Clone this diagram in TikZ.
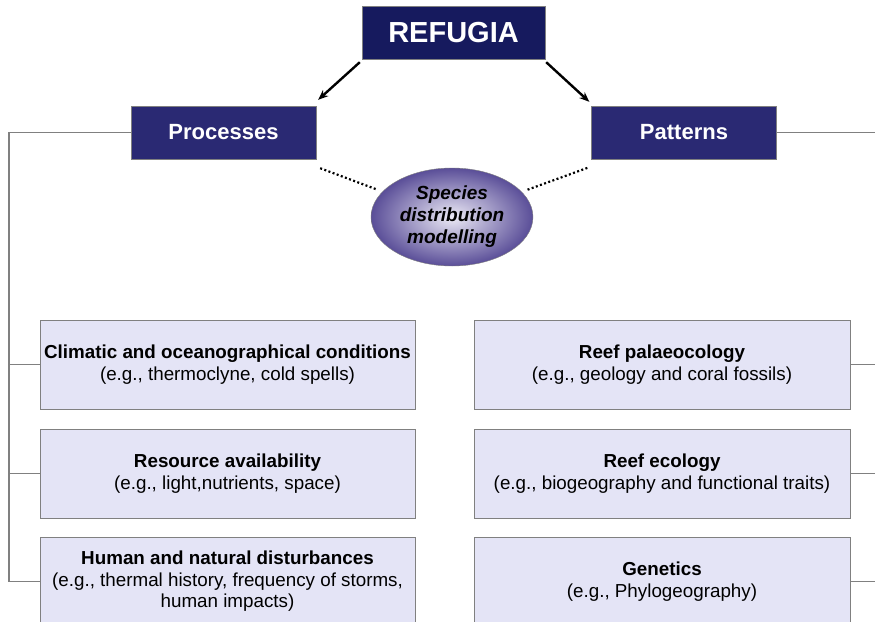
\documentclass[tikz,border=0pt]{standalone}
\usepackage{fontspec}
\setmainfont{Liberation Sans}
\usetikzlibrary{positioning,arrows.meta,shapes.geometric}

\definecolor{navy}{HTML}{161A5E}
\definecolor{navylight}{HTML}{2A2973}
\definecolor{lavender}{HTML}{E4E4F6}
\definecolor{boxline}{HTML}{808080}
\definecolor{sdmedge}{HTML}{5A4E98}
\definecolor{sdmcentre}{HTML}{ECEAF6}

\tikzset{
  titlebox/.style={draw=boxline, fill=navy, text=white, inner sep=0pt,
    minimum width=183pt, minimum height=53pt,
    font=\fontsize{29}{32}\selectfont\bfseries},
  headbox/.style={draw=boxline, fill=navylight, text=white, inner sep=0pt,
    minimum width=185pt, minimum height=53pt,
    font=\fontsize{22}{25}\selectfont\bfseries},
  itembox/.style={draw=boxline, line width=1pt, fill=lavender, inner sep=0pt,
    minimum width=375pt, minimum height=89pt, align=center,
    font=\fontsize{18.8}{21.5}\selectfont},
  link/.style={draw=boxline, line width=1.2pt},
  arrow/.style={line width=2.4pt, -{Stealth[length=10pt,width=8pt]}},
  dots/.style={line width=2.2pt, dash pattern=on 2pt off 2.4pt},
}

\begin{document}
\begin{tikzpicture}[x=1pt,y=-1pt]

    \clip (0,0) rectangle (875,621);

    \node[titlebox] (refugia) at (453.5,32.5) {REFUGIA};
    \node[headbox] (proc) at (223.5,132.5) {Processes};
    \node[headbox] (patt) at (684,132.5) {Patterns};

    \node[ellipse, draw=boxline, inner color=sdmcentre, outer color=sdmedge,
      inner sep=0pt, minimum width=162pt, minimum height=98pt, align=center,
      font=\fontsize{19}{22}\selectfont\bfseries\itshape]
      (sdm) at (452,217) {Species\\distribution\\modelling};

    \node[itembox] (l1) at (227.5,364.5)
      {\textbf{Climatic and oceanographical conditions}\\(e.g., thermoclyne, cold spells)};
    \node[itembox, below=19pt of l1] (l2)
      {\textbf{Resource availability}\\(e.g., light,nutrients, space)};
    \node[itembox, below=18pt of l2] (l3)
      {\textbf{Human and natural disturbances}\\(e.g., thermal history, frequency of storms,\\human impacts)};

    \node[itembox, minimum width=376pt, right=58pt of l1] (r1)
      {\textbf{Reef palaeocology}\\(e.g., geology and coral fossils)};
    \node[itembox, minimum width=376pt, right=58pt of l2] (r2)
      {\textbf{Reef ecology}\\(e.g., biogeography and functional traits)};
    \node[itembox, minimum width=376pt, right=58pt of l3] (r3)
      {\textbf{Genetics}\\(e.g., Phylogeography)};

    \draw[arrow] ([xshift=-2pt,yshift=-3pt]refugia.south west)
      -- ([xshift=2pt,yshift=6pt]proc.north east);
    \draw[arrow] ([xshift=1pt,yshift=-3pt]refugia.south east)
      -- ([xshift=-2pt,yshift=4pt]patt.north west);

    \draw[dots] ([xshift=4pt,yshift=-9pt]proc.south east) -- ([xshift=-7pt]sdm.158);
    \draw[dots] ([xshift=8pt]sdm.22) -- ([xshift=-2pt,yshift=-8pt]patt.south west);

    \coordinate (rail) at (9,132.5);
    \coordinate (railr) at (880,132.5);

    \draw[link] (proc.west) -- (rail) |- (l3.west);
    \draw[link] (rail |- l1.west) -- (l1.west);
    \draw[link] (rail |- l2.west) -- (l2.west);

    \draw[link] (patt.east) -- (railr) |- (r3.east);
    \draw[link] (railr |- r1.east) -- (r1.east);
    \draw[link] (railr |- r2.east) -- (r2.east);

\end{tikzpicture}
\end{document}
